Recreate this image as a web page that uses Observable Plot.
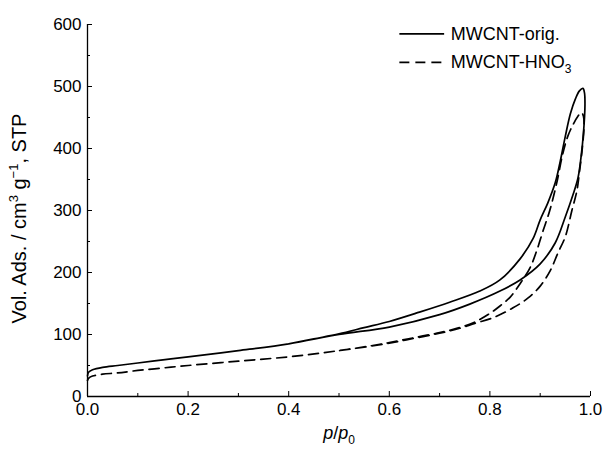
<!DOCTYPE html>
<html><head><meta charset="utf-8">
<script src="https://cdn.jsdelivr.net/npm/d3@7"></script>
<script src="https://cdn.jsdelivr.net/npm/@observablehq/plot@0.6"></script>
<style>body{margin:0;background:#fff} svg{display:block}</style>
</head><body><div id="chart"></div>
<script>
// ---- data ----
const seriesNames = ["MWCNT-orig.", "MWCNT-HNO3"];

// MWCNT-orig. adsorption branch
const origAdsP = [0, 0.002, 0.01, 0.03, 0.06, 0.1, 0.15, 0.2, 0.3, 0.4, 0.5, 0.6, 0.7, 0.76, 0.82, 0.86, 0.9, 0.93, 0.95, 0.965, 0.975, 0.981, 0.986, 0.989];
const origAdsV = [33, 39, 43, 47, 50, 54, 59, 64, 74, 85, 100, 112, 132, 149, 170, 188, 214, 248, 290, 325, 352, 385, 425, 470];
// MWCNT-orig. desorption branch
const origDesP = [0.988, 0.985, 0.978, 0.97, 0.96, 0.95, 0.94, 0.93, 0.915, 0.9, 0.886, 0.86, 0.82, 0.78, 0.72, 0.66, 0.6, 0.55, 0.5, 0.45, 0.4];
const origDesV = [490, 497, 493, 480, 456, 420, 380, 345, 312, 285, 255, 222, 188, 170, 152, 136, 121, 111, 101, 93, 85];

// MWCNT-HNO3 adsorption branch
const hno3AdsP = [0, 0.003, 0.01, 0.03, 0.06, 0.1, 0.15, 0.2, 0.3, 0.4, 0.5, 0.6, 0.65, 0.7, 0.74, 0.77, 0.806, 0.846, 0.876, 0.9, 0.92, 0.935, 0.95, 0.963, 0.973, 0.978, 0.983, 0.987];
const hno3AdsV = [26, 30, 33, 36, 38, 42, 46, 50, 57, 64, 74, 86, 94, 102, 110, 118, 127, 143, 159, 178, 203, 231, 258, 300, 332, 362, 395, 435];
// MWCNT-HNO3 desorption branch
const hno3DesP = [0.986, 0.982, 0.975, 0.965, 0.955, 0.945, 0.933, 0.919, 0.906, 0.893, 0.88, 0.86, 0.84, 0.82, 0.8, 0.767, 0.734, 0.7, 0.65, 0.6, 0.55, 0.5];
const hno3DesV = [452, 458, 452, 438, 420, 392, 345, 300, 268, 235, 208, 182, 160, 146, 134, 119, 110, 103, 95, 87, 80, 74];

const xTicks = [0, 0.2, 0.4, 0.6, 0.8, 1.0];
const xMinor = [0.1, 0.3, 0.5, 0.7, 0.9];
const yTicks = [0, 100, 200, 300, 400, 500, 600];
const yMinor = [50, 150, 250, 350, 450, 550];

const branch = (series, P, V) => P.map((p, i) => ({series, p, v: V[i]}));
const orig = [...branch(seriesNames[0], origAdsP, origAdsV), ...branch(seriesNames[0], origDesP, origDesV)];
const hno3 = [...branch(seriesNames[1], hno3AdsP, hno3AdsV), ...branch(seriesNames[1], hno3DesP, hno3DesV)];

// ---- layout ----
const W = 609, H = 449, mL = 87, mR = 19, mT = 24, mB = 53;
const frameW = W - mL - mR, frameH = H - mT - mB;
const font = "'Liberation Sans', Arial, Helvetica, sans-serif";
const dash = "10,6";

const chart = Plot.plot({
  width: W, height: H,
  marginLeft: mL, marginRight: mR, marginTop: mT, marginBottom: mB,
  style: {fontFamily: font, fontSize: "17px", background: "#fff", color: "#000"},
  x: {domain: [0, 1]},
  y: {domain: [0, 600]},
  marks: [
    Plot.ruleY([0], {stroke: "#000", strokeWidth: 1.3}),
    Plot.ruleX([0], {stroke: "#000", strokeWidth: 1.3}),
    Plot.tickX(xTicks, {x: d => d, insetTop: frameH - 5, stroke: "#000"}),
    Plot.tickX(xMinor, {x: d => d, insetTop: frameH - 3, stroke: "#000"}),
    Plot.tickY(yTicks, {y: d => d, insetRight: frameW - 5, stroke: "#000"}),
    Plot.tickY(yMinor, {y: d => d, insetRight: frameW - 3, stroke: "#000"}),
    Plot.axisX({ticks: xTicks, tickSize: 0, tickPadding: 6, tickFormat: d3.format(".1f"), label: null, fontSize: 17}),
    Plot.axisY({ticks: yTicks, tickSize: 0, tickPadding: 6, tickFormat: d => String(d), label: null, fontSize: 17}),
    Plot.line(orig, {x: "p", y: "v", stroke: "#000", strokeWidth: 1.7, curve: "catmull-rom"}),
    Plot.line(hno3, {x: "p", y: "v", stroke: "#000", strokeWidth: 1.7, strokeDasharray: dash, curve: "catmull-rom"}),
    // legend
    Plot.ruleY([585], {x1: 0.621, x2: 0.71, stroke: "#000", strokeWidth: 1.7}),
    Plot.ruleY([539], {x1: 0.621, x2: 0.71, stroke: "#000", strokeWidth: 1.7, strokeDasharray: dash}),
    Plot.text([seriesNames[0]], {x: 0.722, y: 585, text: d => d, textAnchor: "start", fontSize: 18, className: "leg1"}),
    Plot.text([seriesNames[1]], {x: 0.722, y: 539, text: d => d, textAnchor: "start", fontSize: 18, className: "leg2"}),
    // axis titles
    Plot.text(["p/p0"], {frameAnchor: "bottom", dy: 42, text: d => d, fontSize: 18, className: "xlab"}),
    Plot.text(["Vol. Ads. / cm3 g-1, STP"], {frameAnchor: "left", dx: -68, dy: 8, rotate: -90, textAnchor: "middle", text: d => d, fontSize: 20, className: "ylab"})
  ]
});
document.getElementById("chart").appendChild(chart);

// rich text (italic, sub/superscripts) as tspans
function rich(cls, parts) {
  const t = d3.select(chart).select("." + cls + " text");
  t.text(null);
  for (const [s, opt] of parts) {
    const sp = t.append("tspan").text(s);
    if (opt) for (const k in opt) sp.attr(k, opt[k]);
  }
}
rich("xlab", [["p", {"font-style": "italic"}], ["/"], ["p", {"font-style": "italic"}], ["0", {"font-size": 12, dy: 5}]]);
rich("leg2", [["MWCNT-HNO"], ["3", {"font-size": 12, dy: 5}]]);
rich("ylab", [["Vol. Ads. / cm"], ["3", {"font-size": 13, dy: -8}], [" g", {dy: 8}], ["\u22121", {"font-size": 13, dy: -8}], [", STP", {dy: 8}]]);
</script>
</body></html>
